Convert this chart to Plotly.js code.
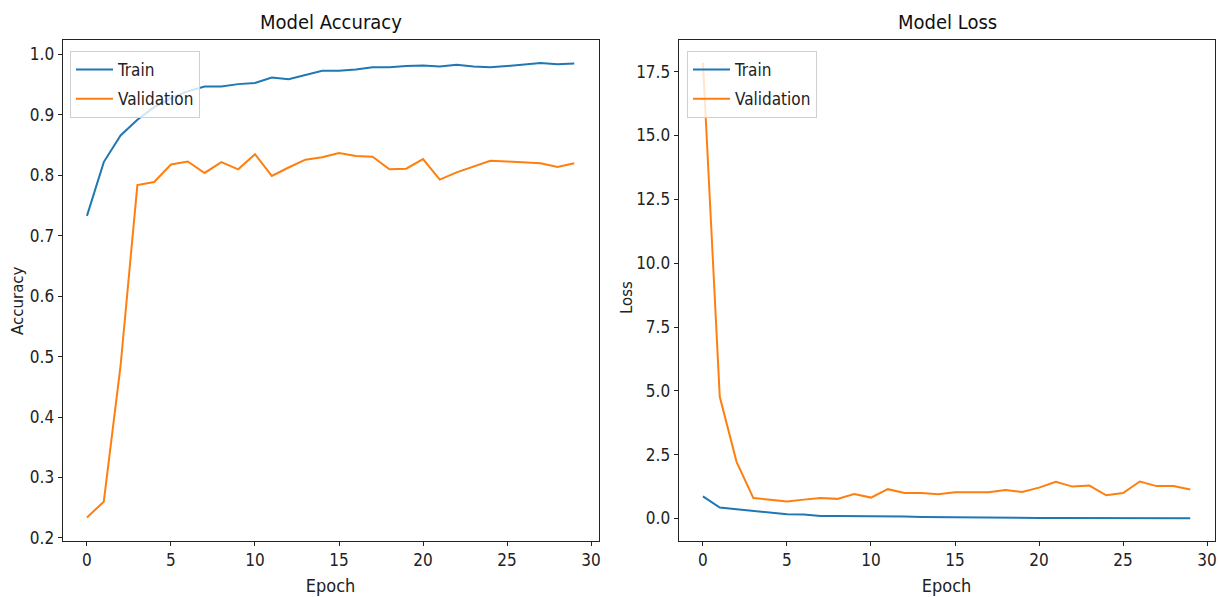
<!DOCTYPE html>
<html>
<head>
<meta charset="utf-8">
<script src="https://cdn.plot.ly/plotly-3.0.1.min.js"></script>
<style>html,body{margin:0;padding:0;background:#fff;}#chart{width:1221px;height:597px;}</style>
</head>
<body>
<div id="chart"></div>
<script>
const epochs = [0,1,2,3,4,5,6,7,8,9,10,11,12,13,14,15,16,17,18,19,20,21,22,23,24,25,26,27,28,29];
const trainAcc = [0.733,0.822,0.866,0.892,0.913,0.928,0.939,0.947,0.947,0.951,0.953,0.962,0.959,0.966,0.973,0.973,0.975,0.979,0.979,0.981,0.982,0.980,0.983,0.980,0.979,0.981,0.984,0.986,0.984,0.985];
const valAcc = [0.234,0.260,0.485,0.784,0.789,0.818,0.823,0.804,0.822,0.810,0.835,0.799,0.813,0.826,0.830,0.837,0.832,0.831,0.810,0.811,0.827,0.793,0.805,0.815,0.824,0.823,0.821,0.820,0.814,0.820];
const trainLoss = [0.87,0.43,0.36,0.29,0.22,0.17,0.16,0.10,0.10,0.10,0.10,0.08,0.08,0.06,0.05,0.05,0.04,0.03,0.03,0.02,0.02,0.02,0.02,0.02,0.03,0.02,0.01,0.01,0.02,0.01];
const valLoss = [17.85,4.77,2.22,0.80,0.74,0.67,0.74,0.80,0.77,0.96,0.82,1.15,1.00,1.00,0.95,1.03,1.03,1.03,1.12,1.04,1.21,1.44,1.25,1.29,0.91,1.00,1.45,1.27,1.27,1.14];
const seriesNames = ["Train","Validation"];
const xTicks = [0,5,10,15,20,25,30];
const accTicks = [0.2,0.3,0.4,0.5,0.6,0.7,0.8,0.9,1.0];
const accTickText = ["0.2","0.3","0.4","0.5","0.6","0.7","0.8","0.9","1.0"];
const lossTicks = [0,2.5,5,7.5,10,12.5,15,17.5];
const lossTickText = ["0.0","2.5","5.0","7.5","10.0","12.5","15.0","17.5"];

const FONT = "DejaVu Sans Condensed, Liberation Sans Narrow, DejaVu Sans, sans-serif";
const BLUE = "#1f77b4", ORANGE = "#ff7f0e";

const traces = [
  {x: epochs, y: trainAcc, name: seriesNames[0], legendgroup: "a", type: "scatter", mode: "lines", line: {color: BLUE, width: 2}, xaxis: "x", yaxis: "y", legend: "legend"},
  {x: epochs, y: valAcc, name: seriesNames[1], legendgroup: "b", type: "scatter", mode: "lines", line: {color: ORANGE, width: 2}, xaxis: "x", yaxis: "y", legend: "legend"},
  {x: epochs, y: trainLoss, name: seriesNames[0], legendgroup: "c", type: "scatter", mode: "lines", line: {color: BLUE, width: 2}, xaxis: "x2", yaxis: "y2", legend: "legend2"},
  {x: epochs, y: valLoss, name: seriesNames[1], legendgroup: "d", type: "scatter", mode: "lines", line: {color: ORANGE, width: 2}, xaxis: "x2", yaxis: "y2", legend: "legend2"}
];

function xax(domain, anchor) {
  return {domain: domain, anchor: anchor, range: [-1.45, 30.45], tickvals: xTicks, ticktext: xTicks.map(String),
    ticks: "outside", ticklen: 4, tickwidth: 1, tickcolor: "#222", showline: true, linecolor: "#222", linewidth: 1, mirror: true,
    showgrid: false, zeroline: false, tickfont: {family: FONT, size: 17, color: "#222"},
    title: {text: "Epoch", font: {family: FONT, size: 18, color: "#222"}, standoff: 9}};
}
function yax(domain, anchor, range, tv, tt) {
  return {domain: domain, anchor: anchor, range: range, tickvals: tv, ticktext: tt,
    ticks: "outside", ticklen: 4, tickwidth: 1, tickcolor: "#222", showline: true, linecolor: "#222", linewidth: 1, mirror: true,
    showgrid: false, zeroline: false, tickfont: {family: FONT, size: 17, color: "#222"}};
}
const yDom = [56/597, 557/597];
const legendBase = {bgcolor: "rgba(255,255,255,0.8)", bordercolor: "#d0d0d0", borderwidth: 1,
  font: {family: FONT, size: 17, color: "#222"}, xanchor: "left", yanchor: "top", itemwidth: 37,
  traceorder: "grouped", tracegroupgap: 4};

const layout = {
  width: 1221, height: 597,
  margin: {l: 0, r: 0, t: 0, b: 0},
  paper_bgcolor: "#fff", plot_bgcolor: "#fff",
  showlegend: true,
  xaxis: xax([62.6/1221, 598.6/1221], "y"),
  yaxis: yax(yDom, "x", [0.195, 1.024], accTicks, accTickText),
  xaxis2: xax([678.6/1221, 1214.6/1221], "y2"),
  yaxis2: yax(yDom, "x2", [-0.88, 18.74], lossTicks, lossTickText),
  legend: Object.assign({}, legendBase, {x: 70/1221, y: (597-51)/597}),
  legend2: Object.assign({}, legendBase, {x: 687/1221, y: (597-51)/597}),
  annotations: [
    {text: "Model Accuracy", xref: "paper", yref: "paper", x: 331/1221, y: (597-22)/597, xanchor: "center", yanchor: "middle", showarrow: false, font: {family: FONT, size: 20, color: "#111"}},
    {text: "Model Loss", xref: "paper", yref: "paper", x: 947/1221, y: (597-22)/597, xanchor: "center", yanchor: "middle", showarrow: false, font: {family: FONT, size: 20, color: "#111"}},
    {text: "Accuracy", xref: "paper", yref: "paper", x: 18/1221, y: (597-301)/597, xanchor: "center", yanchor: "middle", textangle: -90, showarrow: false, font: {family: "DejaVu Sans, sans-serif", size: 15, color: "#222"}},
    {text: "Loss", xref: "paper", yref: "paper", x: 627/1221, y: (597-298)/597, xanchor: "center", yanchor: "middle", textangle: -90, showarrow: false, font: {family: "DejaVu Sans, sans-serif", size: 15, color: "#222"}}
  ]
};
Plotly.newPlot("chart", traces, layout, {staticPlot: true, displayModeBar: false});
</script>
</body>
</html>
